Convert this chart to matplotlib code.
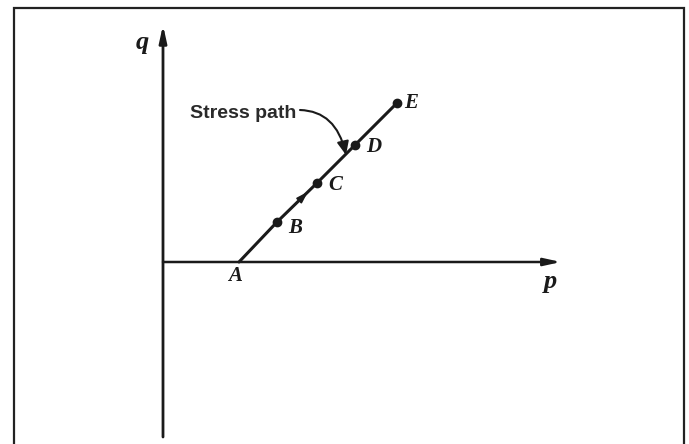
import matplotlib
matplotlib.use("Agg")
import matplotlib.pyplot as plt
from matplotlib.patches import FancyArrowPatch
from matplotlib.path import Path

# Stress path points in the p-q plane (drawing units)
labels = ["A", "B", "C", "D", "E"]
p_vals = [76, 114, 154, 192, 234]
q_vals = [0, 40, 79, 117, 159]

W, H = 689, 444
ox, oy = 163, 262  # axis origin in pixels


def px(x, y):
    """Pixel position -> drawing units."""
    return x - ox, oy - y


fig = plt.figure(figsize=(W / 100, H / 100), dpi=100)
ax = fig.add_axes([0, 0, 1, 1])
ax.set_xlim(-ox, W - ox)
ax.set_ylim(-(H - oy), oy)
ax.axis("off")

ink = "#1a1a1a"

# frame around the figure
fx0, fy0 = px(14, 8)
fx1, fy1 = px(684, H + 5)
ax.plot([fx0, fx0, fx1, fx1], [fy1, fy0, fy0, fy1],
        color="#222222", lw=1.6, solid_joinstyle="miter", clip_on=False)

# axes with arrowheads
ax.annotate("", xy=px(163, 25), xytext=px(163, 437),
            arrowprops=dict(arrowstyle="-|>,head_length=1.0,head_width=0.22",
                            color=ink, lw=2.0, shrinkA=0, shrinkB=0))
ax.annotate("", xy=px(561, 262), xytext=(0, 0),
            arrowprops=dict(arrowstyle="-|>,head_length=1.0,head_width=0.22",
                            color=ink, lw=1.8, shrinkA=0, shrinkB=0))

# stress path line and points
ax.plot(p_vals, q_vals, color=ink, lw=2.2, solid_capstyle="round")
ax.plot(p_vals[1:], q_vals[1:], "o", color=ink, ms=6)

# direction arrow along the path between B and C
mx = p_vals[1] + 0.7 * (p_vals[2] - p_vals[1])
my = q_vals[1] + 0.7 * (q_vals[2] - q_vals[1])
ax.annotate("", xy=(mx + 3, my + 3), xytext=(mx - 6, my - 6),
            arrowprops=dict(arrowstyle="-|>,head_length=0.7,head_width=0.22",
                            color=ink, lw=1.2, shrinkA=0, shrinkB=0))

# point labels
lab_font = dict(family="Liberation Serif", fontweight="bold", style="italic",
                fontsize=15, color=ink)
offsets = {"A": (-4, -14), "B": (18, -6), "C": (18, -2), "D": (19, -2), "E": (14, 0)}
for name, p, q in zip(labels, p_vals, q_vals):
    dx, dy = offsets[name]
    ax.text(p + dx, q + dy, name, ha="center", va="center", **lab_font)

# axis labels
ax.text(*px(142, 43), "q", ha="center", va="center",
        family="Liberation Serif", fontweight="bold", style="italic",
        fontsize=19, color=ink)
ax.text(*px(551, 281), "p", ha="center", va="center",
        family="Liberation Serif", fontweight="bold", style="italic",
        fontsize=19, color=ink)

# annotation for the path
ax.text(*px(190, 113), "Stress path", ha="left", va="center",
        family="Liberation Sans", fontweight="bold", fontsize=14,
        color="#2a2a2a")
curve = Path([px(300, 110), px(336, 111), px(346, 155)],
             [Path.MOVETO, Path.CURVE3, Path.CURVE3])
arrow = FancyArrowPatch(path=curve,
                        arrowstyle="-|>,head_length=8,head_width=3.5",
                        color=ink, lw=1.5)
ax.add_patch(arrow)

fig.savefig("out.png", dpi=100, facecolor="white")
